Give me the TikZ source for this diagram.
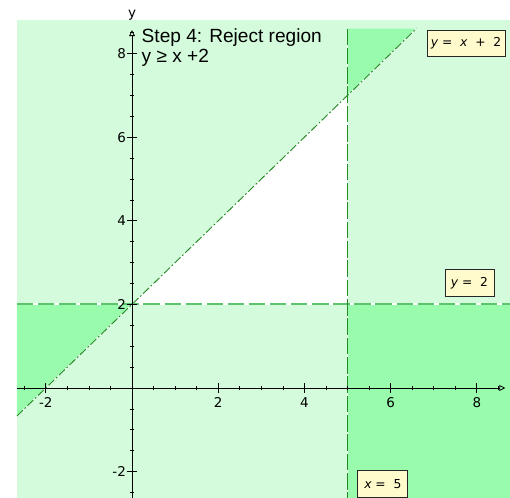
\documentclass[tikz,border=0pt]{standalone}
\usepackage{fontspec}
\setmainfont{Liberation Sans}
\newfontfamily\plotfont{DejaVu Sans}
\usetikzlibrary{arrows.meta, positioning, calc}
\definecolor{lightreg}{HTML}{D4FCDC}
\definecolor{darkreg}{HTML}{98FCAC}
\definecolor{tagfill}{HTML}{FFFBCC}
\definecolor{hline}{HTML}{5CC46C}
\definecolor{vline}{HTML}{228B22}

\begin{document}
\begin{tikzpicture}[
  x=1.293cm, y=1.254cm,
  axis/.style={line width=0.7pt, -{Triangle[open, length=5pt, width=5pt]}},
  tick/.style={line width=0.6pt},
  ticklab/.style={font=\plotfont\fontsize{11.5}{13}\selectfont, inner sep=1pt},
  tag/.style={draw=black!85, line width=0.8pt, fill=tagfill, minimum height=0.8cm, inner xsep=3pt, font=\plotfont\fontsize{10.5}{12}\selectfont},
  bound/.style={line width=0.8pt}
]
\useasboundingbox (-3.063,-2.608) rectangle (8.770,9.282);

% regions
\fill[lightreg] (-2.67,-2.7) rectangle (8.9,8.80);
\fill[white] (0,2) -- (5,2) -- (5,7) -- cycle;
\fill[darkreg] (-2.67,2) -- (0,2) -- (-2.67,-0.67) -- cycle;
\fill[darkreg] (5,2) rectangle (8.9,-2.7);
\fill[darkreg] (5,7) -- (5,8.6) -- (6.6,8.6) -- cycle;

% boundary lines
\coordinate (diagA) at (-2.67,-0.67);
\coordinate (diagB) at (6.6,8.6);
\coordinate (horA) at (-2.67,2);
\coordinate (horB) at (8.9,2);
\coordinate (verA) at (5,8.6);
\coordinate (verB) at (5,-2.7);
\draw[white, bound] (diagA) -- (diagB);
\draw[vline, bound, dash pattern=on 7pt off 2pt on 1.5pt off 2pt] (diagA) -- (diagB);
\draw[white, line width=1.7pt] (horA) -- (horB);
\draw[hline, line width=1.7pt, dash pattern=on 14pt off 4pt] (horA) -- (horB);
\draw[white, bound] (verA) -- (verB);
\draw[vline, bound, dash pattern=on 14pt off 2.5pt] (verA) -- (verB);

% axes
\coordinate (xstart) at (-2.67,0);
\coordinate (xend) at (8.66,0);
\coordinate (ystart) at (0,-2.7);
\coordinate (yend) at (0,8.56);
\draw[axis] (xstart) -- (xend);
\draw[axis] (ystart) -- (yend);
\foreach \t in {-2.5,-1.5,...,8.5} {
  \draw[tick] (\t,0) ++(0,-1.8pt) -- ++(0,3.6pt);
  \draw[tick] (0,\t) ++(-1.8pt,0) -- ++(3.6pt,0);
}
\foreach \t in {-1,1,3,5,7} {
  \draw[tick] (\t,0) ++(0,-1.8pt) -- ++(0,3.6pt);
  \draw[tick] (0,\t) ++(-1.8pt,0) -- ++(3.6pt,0);
}
\foreach \t in {-2,2,4,6,8} {
  \draw[tick] (\t,0) ++(0,-4.3pt) -- ++(0,8.6pt);
  \draw[tick] (0,\t) ++(-4.3pt,0) -- ++(8.6pt,0);
  \node[ticklab, below=7pt] (xl\t) at (\t,0) {\t};
  \node[ticklab, left=4pt] (yl\t) at (0,\t) {\t};
}
\node[ticklab] (ylab) at (0,8.92) {y};

% labels
\node[tag, minimum width=2.34cm] (tagdiag) at (7.75,8.24) {\itshape y\upshape\ = \ \itshape x\upshape\ \ + \ 2};
\node[tag, minimum width=1.47cm] (taghor) at (7.83,2.51) {\itshape y\upshape\ = \ 2};
\node[tag, minimum width=1.5cm] (tagver) at (5.82,-2.30) {\itshape x\upshape\ = \ 5};

% title
\node[anchor=base west, align=left, inner sep=0pt, font=\fontsize{16.3}{17}\selectfont] (title) at (0.22,7.78) {Step 4: Reject region\\y ≥ x +2};
\end{tikzpicture}
\end{document}
